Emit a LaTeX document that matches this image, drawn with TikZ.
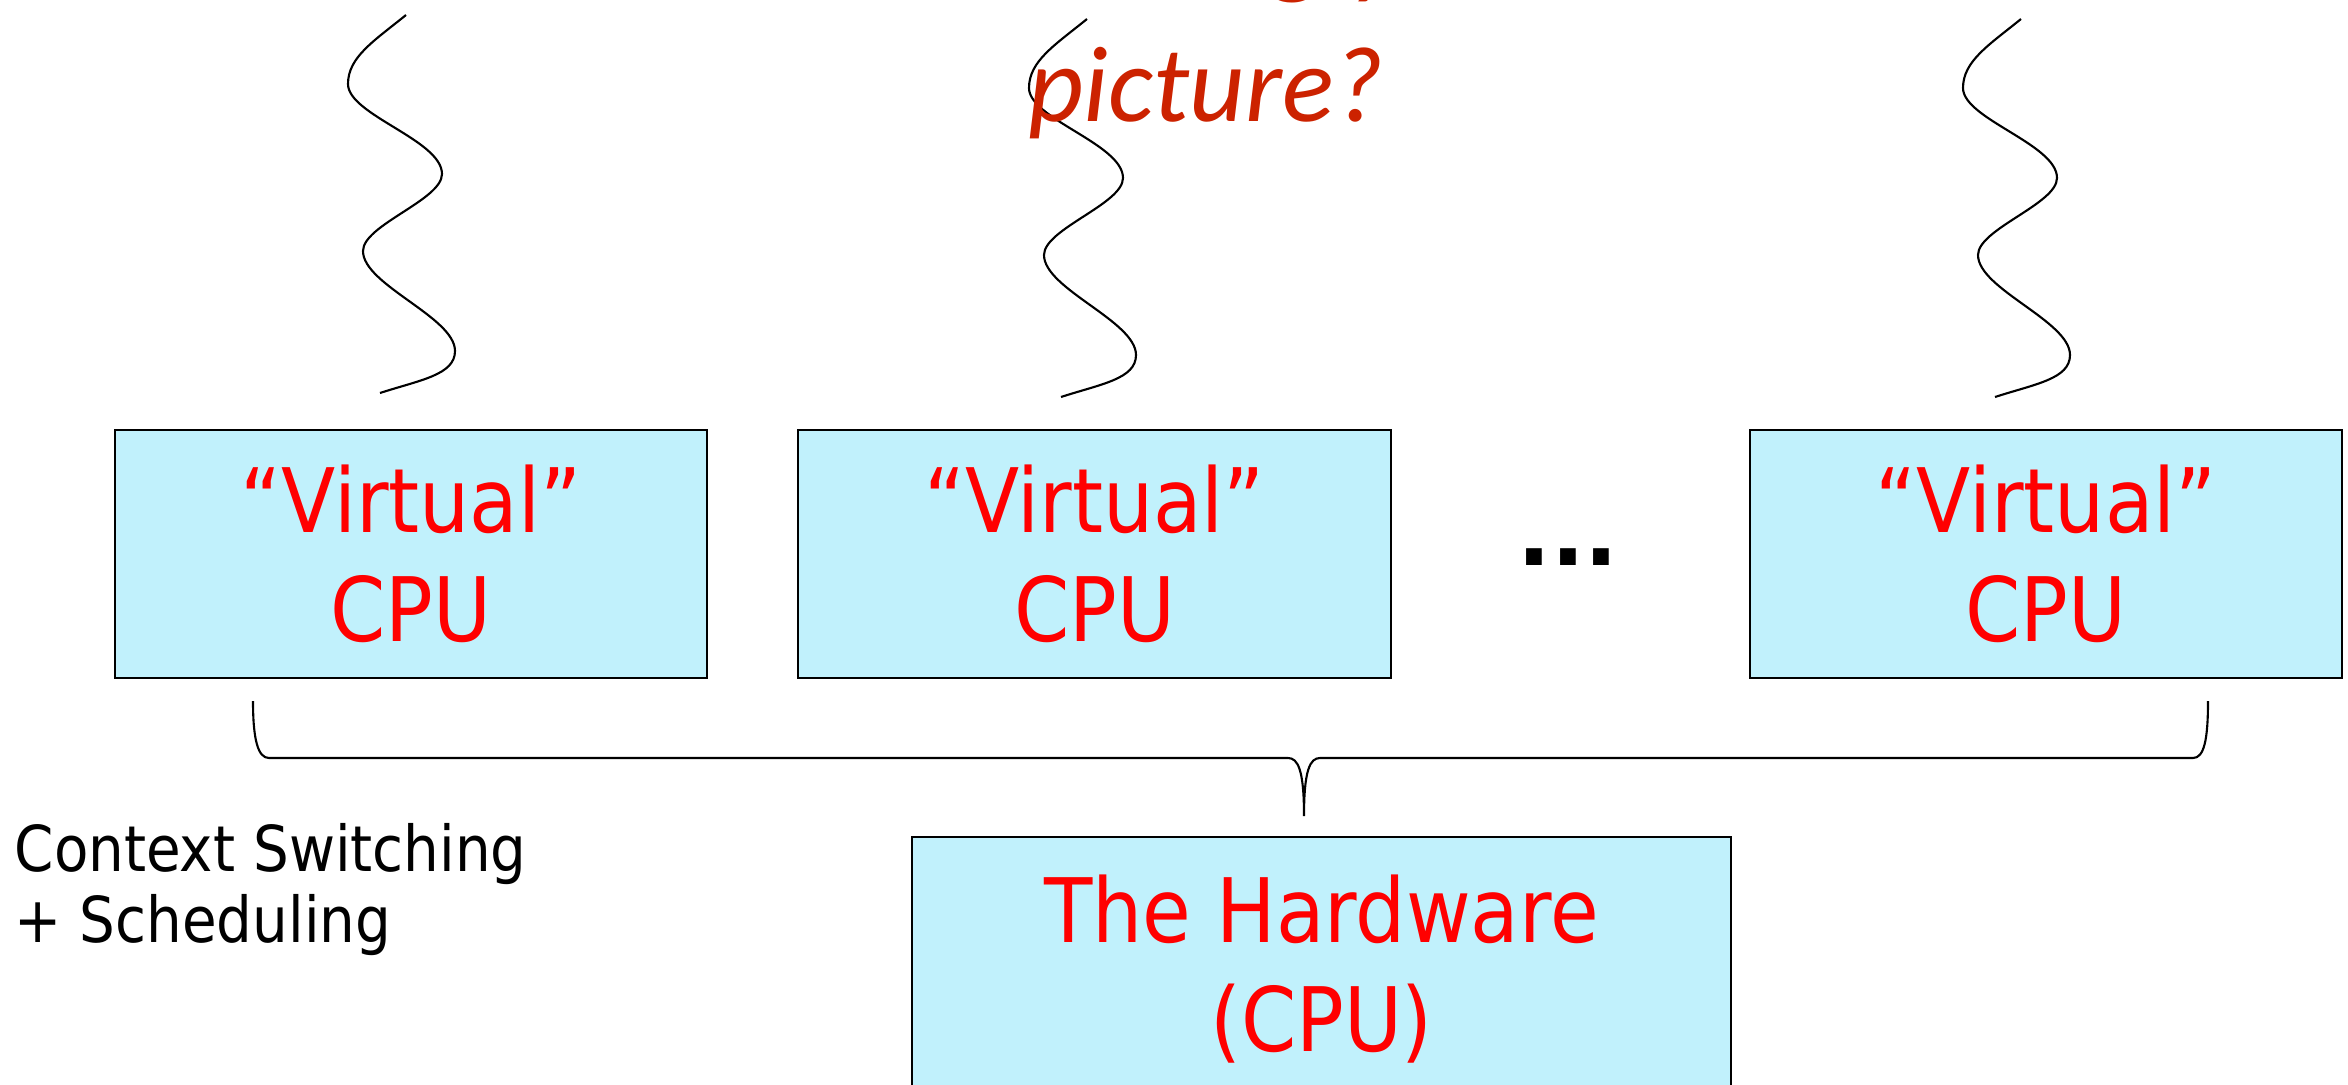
\documentclass[tikz,border=0pt]{standalone}
\usepackage{fontspec}
\usepackage{tikz}
\usetikzlibrary{positioning}
\usepackage{xcolor}

\newfontfamily\slidefont{DejaVu Sans}[FakeStretch=0.89]
\newfontfamily\dotfont{DejaVu Sans}
\newfontfamily\titlefont{Carlito}

\definecolor{boxcyan}{RGB}{193,241,252}
\definecolor{slidered}{RGB}{255,0,0}
\definecolor{titlered}{RGB}{204,34,0}

\tikzset{
	thread/.pic={
		\draw[line width=0.6pt]
			(0,0) .. controls (-32,26) and (-58,42) .. (-58,69)
			.. controls (-58,100) and (36,125) .. (36,159)
			.. controls (36,185) and (-43,210) .. (-43,236)
			.. controls (-43,270) and (49,302) .. (49,336)
			.. controls (49,360) and (14,365) .. (-26,378);
	}
}

\begin{document}
\begin{tikzpicture}[x=0.01cm,y=-0.01cm]
\tikzstyle{cpubox} = [
	shape=rectangle,
	draw=black, %border of the box
	fill=boxcyan, %light cyan inside
	line width=0.6pt,
	minimum width=5.92cm,
	minimum height=2.48cm,
	inner sep=0pt,
	align=center,
	text=slidered,
	font=\slidefont\fontsize{25.3}{31}\selectfont
];

\useasboundingbox (0,0) rectangle (2348,1085);
\clip (0,0) rectangle (2348,1085);

%threads
\pic at (406,15) {thread};
\pic at (1087,19) {thread};
\pic at (2021,19) {thread};

%virtual cpus
\node[cpubox] (vc1) at (411,554) {“Virtual”\\CPU};
\node[cpubox, right=0.89cm of vc1] (vc2) {“Virtual”\\CPU};
\node[cpubox, right=3.57cm of vc2] (vc3) {“Virtual”\\CPU};
\node[anchor=base, inner sep=0pt, font=\dotfont\bfseries\fontsize{25.3}{31}\selectfont] (dots) at (1568,565) {...};

%the real one
\node[cpubox, minimum width=8.19cm, minimum height=2.64cm] (hw) at (1321.5,969) {The Hardware\\(CPU)};

%brace
\coordinate (bl) at (253,701);
\coordinate (bm) at (1304,816);
\coordinate (br) at (2208,701);
\draw[line width=0.6pt]
	(bl) .. controls (253,740) and (258,758) .. (269,758)
	-- (1288,758) .. controls (1298,758) and (1304,770) .. (bm)
	.. controls (1304,770) and (1310,758) .. (1320,758)
	-- (2193,758) .. controls (2204,758) and (2208,740) .. (br);

\node[anchor=north west, align=left, inner sep=0pt, font=\slidefont\fontsize{18}{20.2}\selectfont] (cs) at (14,823) {Context Switching\\+ Scheduling};

%title (cut at the top)
\node[anchor=base west, inner sep=0pt, text=titlered, font=\titlefont\itshape\fontsize{30.7}{37}\selectfont] (ttltop) at (1272,-15) {g y};
\node[anchor=base, inner sep=0pt, text=titlered, font=\titlefont\itshape\fontsize{30.7}{37}\selectfont] (ttl) at (1206,122) {picture?};
\end{tikzpicture}
\end{document}
